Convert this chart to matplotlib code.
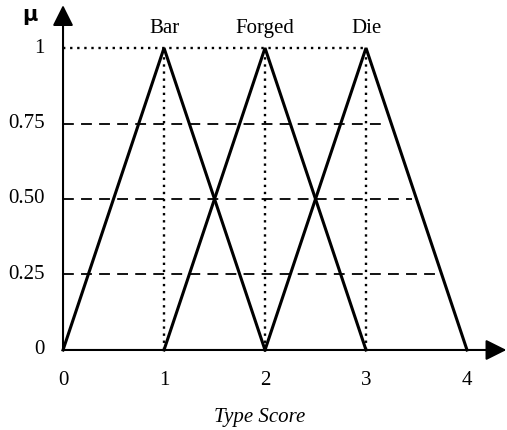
import matplotlib
matplotlib.use('Agg')
import matplotlib.pyplot as plt

plt.rcParams['font.family'] = ['Liberation Serif', 'DejaVu Serif']

# Membership functions (triangles)
categories = ['Bar', 'Forged', 'Die']
left_feet = [0, 1, 2]
peaks = [1, 2, 3]
right_feet = [2, 3, 4]

# Dashed guide levels and where each one stops
guide_levels = [0.25, 0.50, 0.75]
guide_ends = [3.71, 3.46, 3.16]

x_ticks = [0, 1, 2, 3, 4]
y_ticks = [0, 0.25, 0.50, 0.75, 1]
y_tick_labels = ['0', '0.25', '0.50', '0.75', '1']

fig = plt.figure(figsize=(5.07, 4.30), dpi=100)
ax = fig.add_axes([0, 0, 1, 1])
ax.set_xlim(-0.624, 4.396)
ax.set_ylim(-0.265, 1.159)
ax.axis('off')

# dotted reference lines at peaks
ax.plot([0, max(peaks)], [1, 1], color='black', lw=1.7, ls=(0, (1, 2)))
for p in peaks:
    ax.plot([p, p], [0, 1], color='black', lw=1.7, ls=(0, (1, 2)))

# dashed horizontal guides
for lvl, end in zip(guide_levels, guide_ends):
    ax.plot([0, end], [lvl, lvl], color='black', lw=1.3, ls=(0, (6, 4)))

# triangles
for name, a, b, c in zip(categories, left_feet, peaks, right_feet):
    ax.plot([a, b, c], [0, 1, 0], color='black', lw=2.2, solid_joinstyle='miter')
    ax.text(b, 1.063, name, ha='center', va='center', fontsize=15)

# axes with arrows
arrow = dict(arrowstyle='-|>,head_length=0.9,head_width=0.45', color='black',
             lw=1.5, mutation_scale=14, shrinkA=0, shrinkB=0)
ax.annotate('', xy=(4.39, 0), xytext=(0, 0), arrowprops=arrow)
ax.annotate('', xy=(0, 1.142), xytext=(0, 0), arrowprops=arrow)

# tick labels
for v, lab in zip(y_ticks, y_tick_labels):
    ax.text(-0.18, v, lab, ha='right', va='center', fontsize=15)
for v in x_ticks:
    ax.text(v, -0.10, str(v), ha='center', va='center', fontsize=15)

ax.text(-0.327, 1.109, 'μ', ha='center', va='center', fontsize=15,
        fontweight='bold', family=['DejaVu Sans'])
ax.text(1.95, -0.222, 'Type Score', ha='center', va='center', fontsize=15,
        style='italic')

fig.savefig('out.png', dpi=100)
